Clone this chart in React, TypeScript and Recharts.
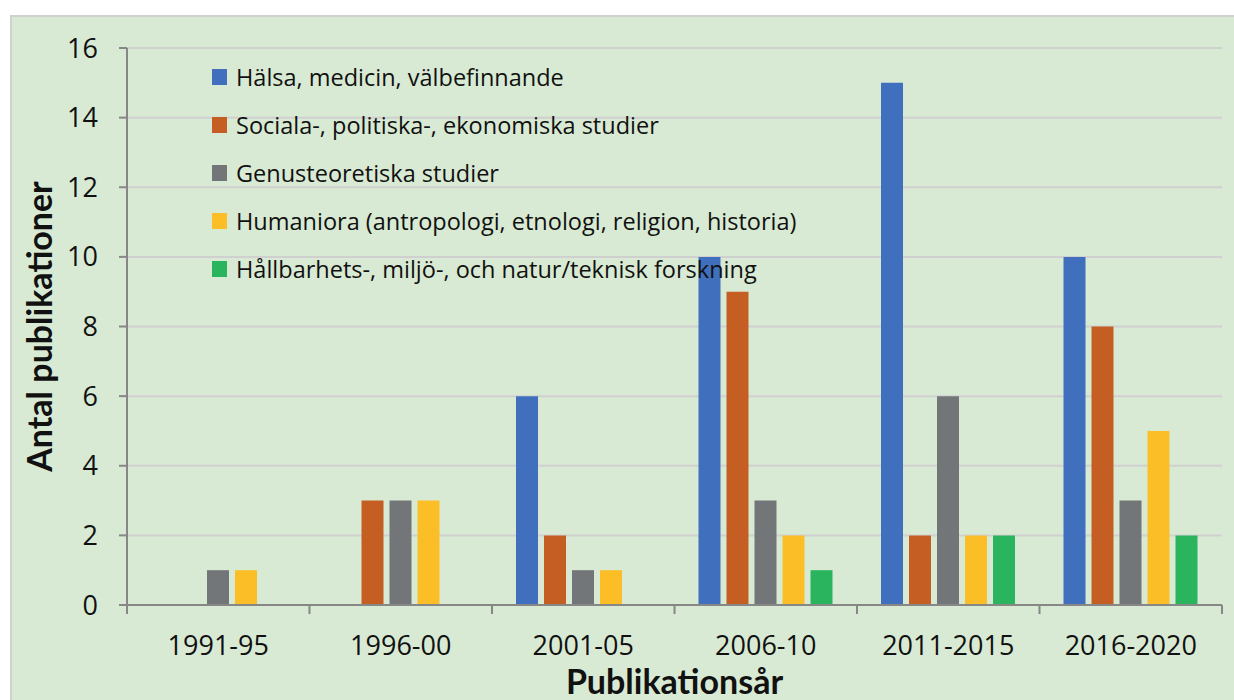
import { Bar, BarChart, CartesianGrid, XAxis, YAxis } from 'recharts';

const perioder = ['1991-95', '1996-00', '2001-05', '2006-10', '2011-2015', '2016-2020'];
const halsa = [0, 0, 6, 10, 15, 10];
const sociala = [0, 3, 2, 9, 2, 8];
const genus = [1, 3, 1, 3, 6, 3];
const humaniora = [1, 3, 1, 2, 2, 5];
const hallbarhet = [0, 0, 0, 1, 2, 2];
const yTicks = [0, 2, 4, 6, 8, 10, 12, 14, 16];

const serier = [
  { key: 'halsa', namn: 'Hälsa, medicin, välbefinnande', farg: '#4070BD' },
  { key: 'sociala', namn: 'Sociala-, politiska-, ekonomiska studier', farg: '#C55E23' },
  { key: 'genus', namn: 'Genusteoretiska studier', farg: '#737678' },
  { key: 'humaniora', namn: 'Humaniora (antropologi, etnologi, religion, historia)', farg: '#FBBE27' },
  { key: 'hallbarhet', namn: 'Hållbarhets-, miljö-, och natur/teknisk forskning', farg: '#2BB45E' },
];

const data = perioder.map((period, i) => ({
  period,
  halsa: halsa[i],
  sociala: sociala[i],
  genus: genus[i],
  humaniora: humaniora[i],
  hallbarhet: hallbarhet[i],
}));

const BREDD = 1234;
const HOJD = 700;
const MARG = { top: 48, right: 12, left: 0, bottom: 0 };
const YBREDD = 127;
const FONT = '"Open Sans", Lato, sans-serif';
const RUBRIKFONT = 'Lato, "Open Sans", sans-serif';
const AXELFARG = '#878787';
// bredd per kategori, för tickmarkeringar mellan grupperna
const BAND = (BREDD - MARG.left - MARG.right - YBREDD) / perioder.length;

const XTick = (props: any) => {
  const { x, y, payload, index } = props;
  const half = BAND / 2;
  return (
    <g>
      <line x1={x - half} x2={x - half} y1={y} y2={y + 9} stroke={AXELFARG} strokeWidth={2} />
      {index === perioder.length - 1 && (
        <line x1={x + half} x2={x + half} y1={y} y2={y + 9} stroke={AXELFARG} strokeWidth={2} />
      )}
      <text x={x} y={y + 50} textAnchor="middle" fontSize={27} fontFamily={FONT} fill="#111">
        {payload.value}
      </text>
    </g>
  );
};

const Forklaring = () => (
  <div style={{ position: 'absolute', left: 212, top: 53, fontFamily: FONT, fontSize: 23.5, color: '#111' }}>
    {serier.map((s) => (
      <div key={s.key} style={{ height: 48, display: 'flex', alignItems: 'center', whiteSpace: 'nowrap' }}>
        <span style={{ width: 15, height: 16, background: s.farg, marginRight: 9, display: 'inline-block' }} />
        <span>{s.namn}</span>
      </div>
    ))}
  </div>
);

export default function App() {
  return (
    <div style={{ position: 'absolute', left: 0, top: 0, width: BREDD, height: HOJD, overflow: 'hidden', background: '#fff' }}>
      <div
        style={{
          position: 'absolute',
          left: 10,
          top: 15,
          width: BREDD,
          height: HOJD,
          background: '#D8EAD3',
          borderLeft: '2px solid #D0D0D0',
          borderTop: '2px solid #D0D0D0',
        }}
      />
      <div style={{ position: 'absolute', left: 0, top: 0 }}>
        <BarChart width={BREDD} height={HOJD} data={data} margin={MARG} barCategoryGap={24} barGap={6}>
          <CartesianGrid vertical={false} stroke="#D0D0D0" strokeWidth={2} />
          <XAxis
            dataKey="period"
            height={95}
            tickLine={false}
            tickSize={0}
            tickMargin={0}
            stroke={AXELFARG}
            strokeWidth={2}
            interval={0}
            tick={<XTick />}
            label={{
              value: 'Publikationsår',
              position: 'insideBottom',
              offset: 6,
              style: { fontFamily: RUBRIKFONT, fontSize: 34, fontWeight: 700, fill: '#111' },
            }}
          />
          <YAxis
            width={YBREDD}
            domain={[0, 16]}
            ticks={yTicks}
            interval={0}
            stroke={AXELFARG}
            strokeWidth={2}
            tickSize={8}
            tickMargin={21}
            tick={{ fontFamily: FONT, fontSize: 27, fill: '#111' }}
            label={{
              value: 'Antal publikationer',
              angle: -90,
              position: 'insideLeft',
              offset: 40,
              style: { fontFamily: RUBRIKFONT, fontSize: 34, fontWeight: 700, fill: '#111', textAnchor: 'middle' },
            }}
          />
          {serier.map((s) => (
            <Bar key={s.key} dataKey={s.key} name={s.namn} fill={s.farg} isAnimationActive={false} />
          ))}
        </BarChart>
      </div>
      <Forklaring />
    </div>
  );
}
